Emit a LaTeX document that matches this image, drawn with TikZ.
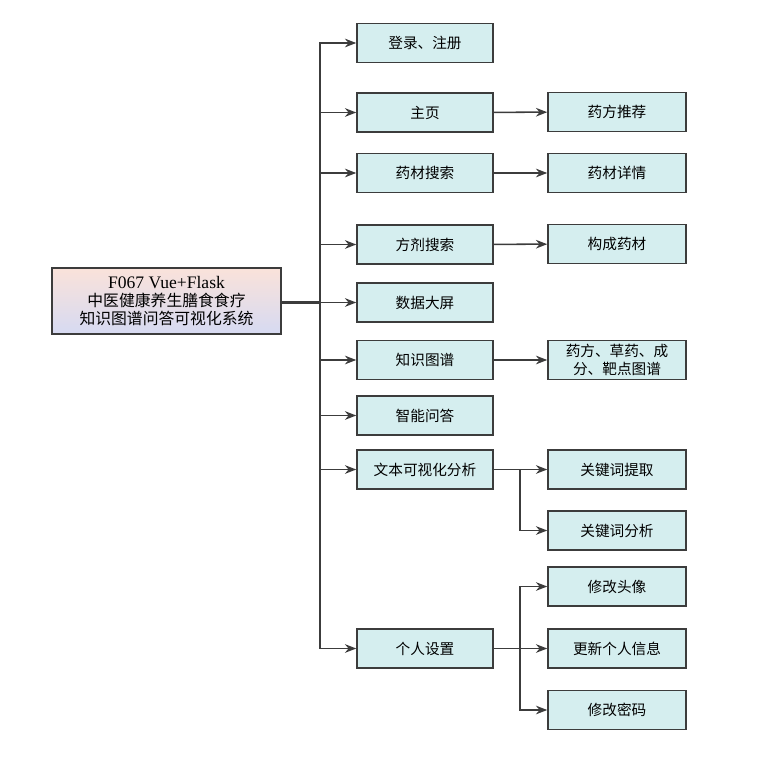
\documentclass[tikz,border=0pt]{standalone}
\usepackage{fontspec}
\setmainfont{Liberation Serif}
\newfontfamily\cjk{Noto Sans CJK SC}
\usetikzlibrary{arrows.meta}
\definecolor{boxfill}{RGB}{213,238,239}
\definecolor{boxline}{RGB}{60,60,60}
\definecolor{rootpeach}{RGB}{250,226,218}
\definecolor{rootlilac}{RGB}{214,218,242}
\tikzset{
  box/.style={draw=boxline, line width=1.3pt, fill=boxfill, align=center, inner sep=1pt, font=\cjk\fontsize{12.5}{15}\selectfont},
  kmain/.style={box, minimum width=4.08cm, minimum height=1.17cm},
  ksub/.style={box, minimum width=4.14cm, minimum height=1.17cm},
  kroot/.style={draw=boxline, line width=1.3pt, top color=rootpeach, bottom color=rootlilac, align=center, minimum width=6.87cm, minimum height=1.98cm, inner sep=1pt, font=\fontsize{13.5}{15}\selectfont},
  flow/.style={-{Stealth[length=3.4mm, width=2.6mm]}, line width=1.3pt, draw=boxline},
}

\begin{document}
\begin{tikzpicture}[x=0.03cm, y=-0.03cm]
    \useasboundingbox (0,0) rectangle (764,763);
    \node[kroot] (root) at (166.5,301) {{\fontsize{15}{15}\selectfont F067 Vue+Flask}\\{\cjk 中医健康养生膳食食疗}\\{\cjk 知识图谱问答可视化系统}};
    % first level
    \node[kmain] (login) at (425,43) {登录、注册};
    \node[kmain] (home) at (425,112.5) {主页};
    \node[kmain] (herbsearch) at (425,173) {药材搜索};
    \node[kmain] (rxsearch) at (425,244.5) {方剂搜索};
    \node[kmain] (screen) at (425,302.5) {数据大屏};
    \node[kmain] (kg) at (425,360) {知识图谱};
    \node[kmain] (qa) at (425,415.5) {智能问答};
    \node[kmain] (textvis) at (425,469.5) {文本可视化分析};
    \node[kmain] (settings) at (425,648.5) {个人设置};
    % second level
    \node[ksub] (recommend) at (617,112) {药方推荐};
    \node[ksub] (herbinfo) at (617,173) {药材详情};
    \node[ksub] (compose) at (617,244) {构成药材};
    \node[ksub] (kgmap) at (617,360) {药方、草药、成\\分、靶点图谱};
    \node[ksub] (kwextract) at (617,469.5) {关键词提取};
    \node[ksub] (kwanalyse) at (617,530.5) {关键词分析};
    \node[ksub] (avatar) at (617,586.5) {修改头像};
    \node[ksub] (userinfo) at (617,648.5) {更新个人信息};
    \node[ksub] (password) at (617,710) {修改密码};
    % junctions
    \coordinate (trunk) at (320,302.5);
    \coordinate (textfork) at (520,469.5);
    \coordinate (setfork) at (520,648.5);
    \draw[boxline, line width=2.2pt] (root.east |- trunk) -- (trunk);
    \foreach \n in {login,home,herbsearch,rxsearch,screen,kg,qa,textvis,settings}
      \draw[flow] (trunk) |- (\n);
    \draw[flow] (home) -- (recommend);
    \draw[flow] (herbsearch) -- (herbinfo);
    \draw[flow] (rxsearch) -- (compose);
    \draw[flow] (kg) -- (kgmap);
    \draw[flow] (textvis) -- (kwextract);
    \draw[flow] (textfork) |- (kwanalyse);
    \draw[flow] (setfork) |- (avatar);
    \draw[flow] (settings) -- (userinfo);
    \draw[flow] (setfork) |- (password);
  \end{tikzpicture}
\end{document}
